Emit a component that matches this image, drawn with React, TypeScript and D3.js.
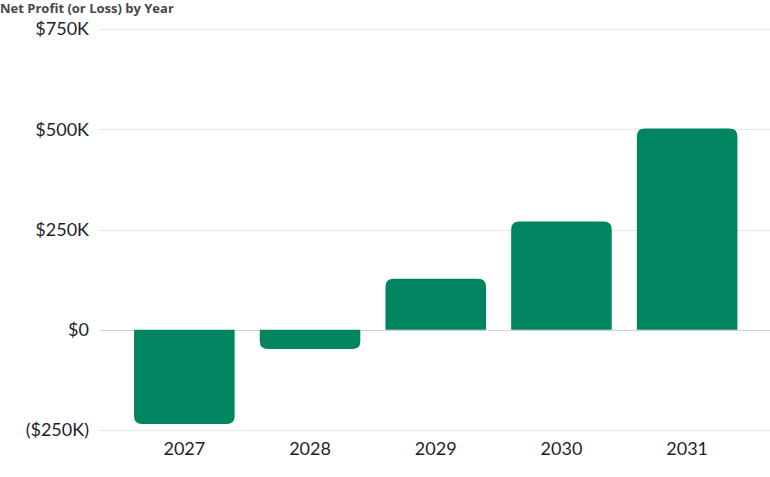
import { useEffect, useRef } from "react";
import * as d3 from "d3";

const years = ["2027", "2028", "2029", "2030", "2031"];
const netProfit = [-235000, -48000, 127000, 270000, 502000];
const yTicks = [-250000, 0, 250000, 500000, 750000];

const width = 770;
const height = 477;
const barColor = "#018561";
const textColor = "#1c1f2e";

function fmt(v: number) {
  if (v === 0) return "$0";
  const s = `$${Math.abs(v) / 1000}K`;
  return v < 0 ? `(${s})` : s;
}

// rounded only on the end away from zero
function barPath(x: number, w: number, y0: number, y1: number, r: number) {
  const h = Math.abs(y1 - y0);
  const rr = Math.min(r, h / 2, w / 2);
  if (y1 < y0) {
    return `M${x},${y0}V${y1 + rr}Q${x},${y1} ${x + rr},${y1}H${x + w - rr}Q${x + w},${y1} ${x + w},${y1 + rr}V${y0}Z`;
  }
  return `M${x},${y0}V${y1 - rr}Q${x},${y1} ${x + rr},${y1}H${x + w - rr}Q${x + w},${y1} ${x + w},${y1 - rr}V${y0}Z`;
}

export default function App() {
  const svgRef = useRef<SVGSVGElement>(null);

  useEffect(() => {
    if (!svgRef.current) return;
    const svg = d3.select(svgRef.current);
    svg.selectAll("*").remove();

    const font = "Lato, 'Open Sans', sans-serif";

    const x = d3
      .scaleBand<string>()
      .domain(years)
      .range([121.5, 750])
      .paddingInner(0.2)
      .paddingOuter(0.1);

    const y = d3.scaleLinear().domain([-250000, 750000]).range([430, 29]);

    svg
      .append("text")
      .attr("x", 0)
      .attr("y", 13)
      .attr("fill", "#474747")
      .style("font-family", "'Open Sans', sans-serif")
      .style("font-size", "13px")
      .style("font-weight", "700")
      .text("Net Profit (or Loss) by Year");

    const grid = svg.append("g");
    grid
      .selectAll("line")
      .data(yTicks)
      .join("line")
      .attr("x1", 100)
      .attr("x2", width)
      .attr("y1", (d) => Math.round(y(d)) + 0.5)
      .attr("y2", (d) => Math.round(y(d)) + 0.5)
      .attr("stroke", (d) => (d === 0 ? "#d0d3d8" : "#e6e7ea"))
      .attr("stroke-width", 1);

    svg
      .append("g")
      .selectAll("text")
      .data(yTicks)
      .join("text")
      .attr("x", 89)
      .attr("y", (d) => y(d))
      .attr("dy", "0.35em")
      .attr("text-anchor", "end")
      .attr("fill", textColor)
      .style("font-family", font)
      .style("font-size", "18px")
      .text((d) => fmt(d));

    svg
      .append("g")
      .selectAll("path")
      .data(years)
      .join("path")
      .attr("fill", barColor)
      .attr("d", (d, i) =>
        barPath(x(d)!, x.bandwidth(), y(0), y(netProfit[i]), 8)
      );

    svg
      .append("g")
      .selectAll("text")
      .data(years)
      .join("text")
      .attr("x", (d) => x(d)! + x.bandwidth() / 2)
      .attr("y", 455)
      .attr("text-anchor", "middle")
      .attr("fill", textColor)
      .style("font-family", font)
      .style("font-size", "18px")
      .text((d) => d);
  }, []);

  return (
    <svg
      ref={svgRef}
      width={width}
      height={height}
      style={{ position: "absolute", left: 0, top: 0, background: "#fff" }}
    />
  );
}
